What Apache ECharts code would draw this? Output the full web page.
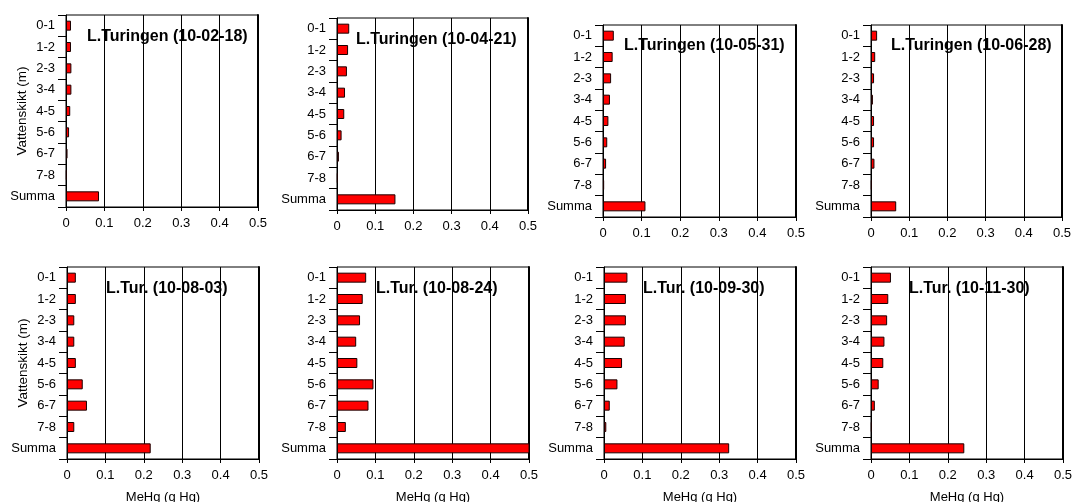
<!DOCTYPE html>
<html>
<head>
<meta charset="utf-8">
<script src="https://cdn.jsdelivr.net/npm/echarts@6/dist/echarts.min.js"></script>
<style>
  html, body { margin: 0; padding: 0; background: #fff; }
  #chart { width: 1072px; height: 502px; }
</style>
</head>
<body>
<div id="chart"></div>
<script>
// Water layers (m) plus the column total
const layers = ['0-1', '1-2', '2-3', '3-4', '4-5', '5-6', '6-7', '7-8', 'Summa'];

// MeHg per layer (g Hg), one array per sampling date
const feb18 = [0.013, 0.013, 0.014, 0.014, 0.011, 0.008, 0.004, 0.002, 0.086];
const apr21 = [0.032, 0.029, 0.026, 0.021, 0.019, 0.012, 0.005, 0.002, 0.153];
const may31 = [0.028, 0.025, 0.021, 0.018, 0.014, 0.011, 0.008, 0.003, 0.110];
const jun28 = [0.016, 0.011, 0.008, 0.005, 0.008, 0.008, 0.009, 0.002, 0.066];
const aug03 = [0.023, 0.023, 0.019, 0.019, 0.023, 0.041, 0.052, 0.019, 0.218];
const aug24 = [0.076, 0.067, 0.060, 0.050, 0.053, 0.095, 0.082, 0.023, 0.506];
const sep30 = [0.061, 0.057, 0.057, 0.054, 0.047, 0.035, 0.015, 0.006, 0.326];
const nov30 = [0.052, 0.045, 0.042, 0.035, 0.032, 0.020, 0.010, 0.002, 0.243];

const panelTitles = [
  'L.Turingen (10-02-18)', 'L.Turingen (10-04-21)', 'L.Turingen (10-05-31)', 'L.Turingen (10-06-28)',
  'L.Tur. (10-08-03)', 'L.Tur. (10-08-24)', 'L.Tur. (10-09-30)', 'L.Tur. (10-11-30)'
];
const panelData = [feb18, apr21, may31, jun28, aug03, aug24, sep30, nov30];

const xTicks = { min: 0, max: 0.5, interval: 0.1 };
const yAxisName = 'Vattenskikt (m)';
const xAxisName = 'MeHg (g Hg)';

// Plot-area boxes [left, top, width, height]
const boxes = [
  [66, 15, 192, 192], [337, 18, 191, 192], [603, 25, 193, 192], [871, 25, 191, 192],
  [67, 267, 192, 192], [337, 267, 192, 192], [604, 267, 192, 192], [871, 267, 192, 192]
];
// Title anchor [left, vertical centre]
const titlePos = [
  [87, 38], [356, 41], [624, 47], [891, 47],
  [106, 290], [376, 290], [643, 290], [909, 290]
];

const FONT = '"Liberation Sans", Arial, sans-serif';
const grids = [], xAxes = [], yAxes = [], series = [], titles = [];

panelData.forEach((vals, i) => {
  const [l, t, w, h] = boxes[i];
  const col = i % 4, row = Math.floor(i / 4);
  grids.push({ left: l, top: t, width: w, height: h, show: true,
    containLabel: false, outerBoundsMode: 'none',
    borderColor: '#000', borderWidth: 1, backgroundColor: 'transparent' });

  xAxes.push({
    type: 'value', gridIndex: i, min: xTicks.min, max: xTicks.max, interval: xTicks.interval,
    name: row === 1 ? xAxisName : '',
    nameLocation: 'middle', nameGap: 32, nameMoveOverlap: false,
    nameTextStyle: { color: '#000', fontSize: 13, fontFamily: FONT },
    axisLine: { show: true, onZero: false, lineStyle: { color: '#000', width: 1 } },
    axisTick: { show: true, length: 4, lineStyle: { color: '#000' } },
    axisLabel: { color: '#000', fontSize: 13, fontFamily: FONT, margin: 10 },
    splitLine: { show: true, lineStyle: { color: '#000', width: 1 } }
  });

  // Layer axis on the left
  yAxes.push({
    type: 'category', gridIndex: i, data: layers, inverse: true,
    name: col === 0 ? yAxisName : '',
    nameLocation: 'middle', nameGap: 37, nameRotate: 90, nameMoveOverlap: false,
    nameTextStyle: { color: '#000', fontSize: 13.5, fontFamily: FONT },
    axisLine: { show: true, lineStyle: { color: '#000', width: 1 } },
    axisTick: { show: true, length: 8, alignWithLabel: false, lineStyle: { color: '#000' } },
    axisLabel: { color: '#000', fontSize: 13, fontFamily: FONT, margin: 11 },
    splitLine: { show: false }
  });
  // Heavier frame edge on the right
  yAxes.push({
    type: 'category', gridIndex: i, data: layers, inverse: true, position: 'right',
    axisLine: { show: true, lineStyle: { color: '#000', width: 2 } },
    axisTick: { show: false }, axisLabel: { show: false }, splitLine: { show: false }
  });

  series.push({
    type: 'bar', xAxisIndex: i, yAxisIndex: 2 * i, data: vals,
    barWidth: 10, clip: true, silent: true,
    itemStyle: { color: '#ff0000', borderColor: '#1a0000', borderWidth: 1 }
  });

  titles.push({
    text: panelTitles[i], left: titlePos[i][0], top: titlePos[i][1] - 9, padding: 0,
    textStyle: { color: '#000', fontSize: 16, fontWeight: 'bold', fontFamily: FONT }
  });
});

const chart = echarts.init(document.getElementById('chart'), null, { renderer: 'canvas' });
chart.setOption({
  animation: false,
  backgroundColor: '#fff',
  title: titles,
  grid: grids,
  xAxis: xAxes,
  yAxis: yAxes,
  series: series
});
</script>
</body>
</html>
